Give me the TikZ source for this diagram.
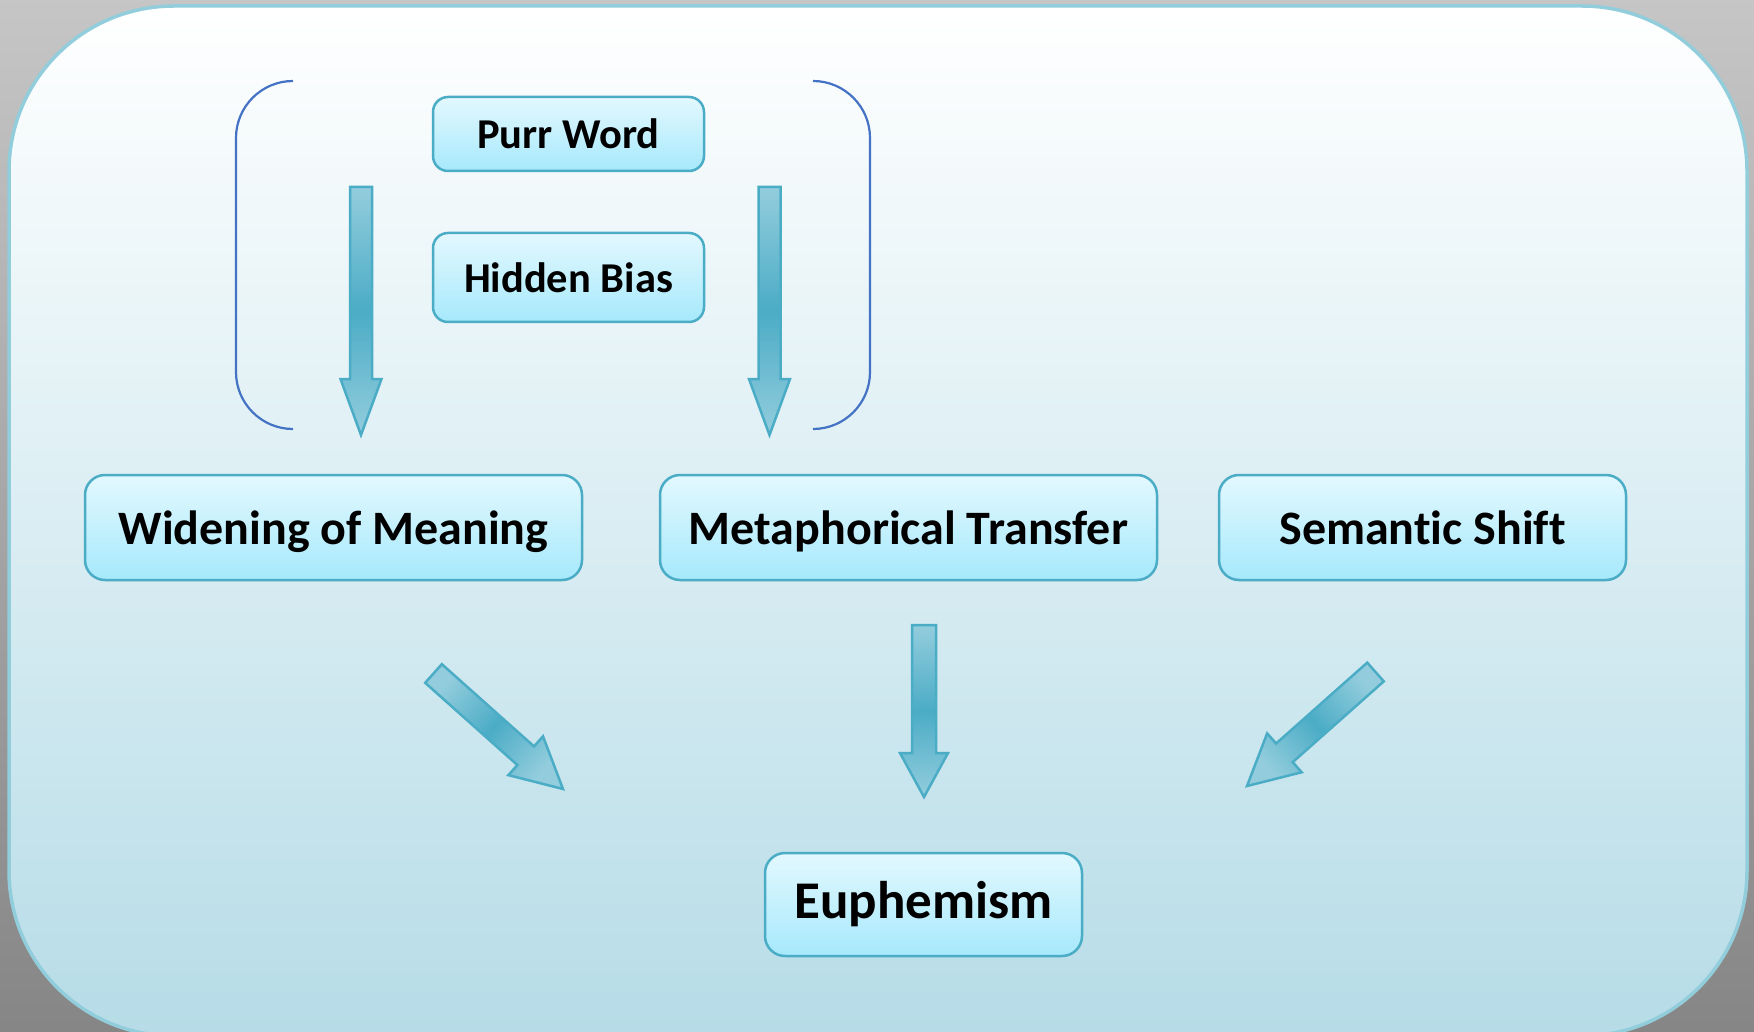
\documentclass[tikz,border=0pt]{standalone}
\usepackage{fontspec}
\setmainfont{Carlito}[Ligatures=NoCommon]
\usetikzlibrary{calc}

\definecolor{arrowdark}{HTML}{4BACC6}
\definecolor{arrowlight}{HTML}{93CDDD}
\definecolor{boxtop}{HTML}{E3F8FE}
\definecolor{boxbottom}{HTML}{A6E9FC}
\definecolor{boxedge}{HTML}{4BACC6}
\definecolor{paneledge}{HTML}{92CDDC}
\definecolor{panelbottom}{HTML}{B6DCE7}
\definecolor{bracketblue}{HTML}{4472C4}

\tikzset{
  termbox/.style={draw=boxedge, line width=2.5pt, rounded corners=20pt,
    top color=boxtop, bottom color=boxbottom, inner sep=0pt, text=black,
    font=\fontsize{48}{56}\selectfont\bfseries},
  rowbox/.style={termbox, minimum height=105pt, text height=34pt, text depth=0pt},
  smallbox/.style={termbox, rounded corners=15pt,
    font=\fontsize{42.5}{50}\selectfont\bfseries},
  blockfill/.style={draw=arrowdark, line width=2.5pt, top color=arrowlight,
    bottom color=arrowlight, middle color=arrowdark},
  bracketline/.style={draw=bracketblue, line width=2.2pt},
}

% block arrow: [options]{tail}{tip}{half shaft}{half head}{head length}
\newcommand{\blockarrow}[6][blockfill]{%
  \coordinate (ba base) at ($(#3)!#6!(#2)$);
  \path[#1] ($(#2)!#4!90:(#3)$) -- ($(ba base)!#4!90:(#3)$)
    -- ($(ba base)!#5!90:(#3)$) -- (#3) -- ($(ba base)!#5!-90:(#3)$)
    -- ($(ba base)!#4!-90:(#3)$) -- ($(#2)!#4!-90:(#3)$) -- cycle;
}

\begin{document}
\begin{tikzpicture}[x=1pt, y=-1pt]
  \useasboundingbox (0,0) rectangle (1754,1032);

  % grey surround and rounded panel
  \fill[top color=gray!45, bottom color=gray!95] (0,0) rectangle (1754,1032);
  \draw[paneledge, line width=3.5pt, rounded corners=165pt, top color=white,
    bottom color=panelbottom] (9,6) rectangle (1747,1036);

  % boxes
  \node[smallbox, minimum width=271pt, minimum height=74pt] (purr) at (568.5,134) {Purr Word};
  \node[smallbox, minimum width=271pt, minimum height=89pt] (bias) at (568.5,277.5) {Hidden Bias};
  \node[rowbox, minimum width=497pt] (widen) at (333.5,527.5) {Widening of Meaning};
  \node[rowbox, minimum width=497pt] (metaphor) at (908.5,527.5) {Metaphorical Transfer};
  \node[rowbox, minimum width=407pt] (shift) at (1422.5,527.5) {Semantic Shift};
  \node[termbox, minimum width=317pt, minimum height=103pt,
    font=\fontsize{53}{60}\selectfont\bfseries] (euph) at (923.5,904.5) {Euphemism};

  % brackets round the two upper terms
  \draw[bracketline, rounded corners=57pt] (293,81) -- (236,81) -- (236,429) -- (293,429);
  \draw[bracketline, rounded corners=57pt] (813,81) -- (870,81) -- (870,429) -- (813,429);

  % arrow end points
  \coordinate (left tail) at (361,187);
  \coordinate (left tip) at (361,435);
  \coordinate (right tail) at (769.5,187);
  \coordinate (right tip) at (769.5,435);
  \coordinate (mid tail) at (924,625);
  \coordinate (mid tip) at (924,797);
  \coordinate (diagl tail) at (433.5,673.5);
  \coordinate (diagl tip) at (563,789);
  \coordinate (diagr tail) at (1375.5,672);
  \coordinate (diagr tip) at (1247,786);

  % block arrows
  \blockarrow{left tail}{left tip}{11pt}{20.5pt}{56pt}
  \blockarrow{right tail}{right tip}{11pt}{20.5pt}{56pt}
  \blockarrow{mid tail}{mid tip}{12pt}{24pt}{44pt}
  \blockarrow[blockfill, shading angle=48]{diagl tail}{diagl tip}{12.5pt}{26pt}{50pt}
  \blockarrow[blockfill, shading angle=-48]{diagr tail}{diagr tip}{12.5pt}{26pt}{50pt}
\end{tikzpicture}
\end{document}
